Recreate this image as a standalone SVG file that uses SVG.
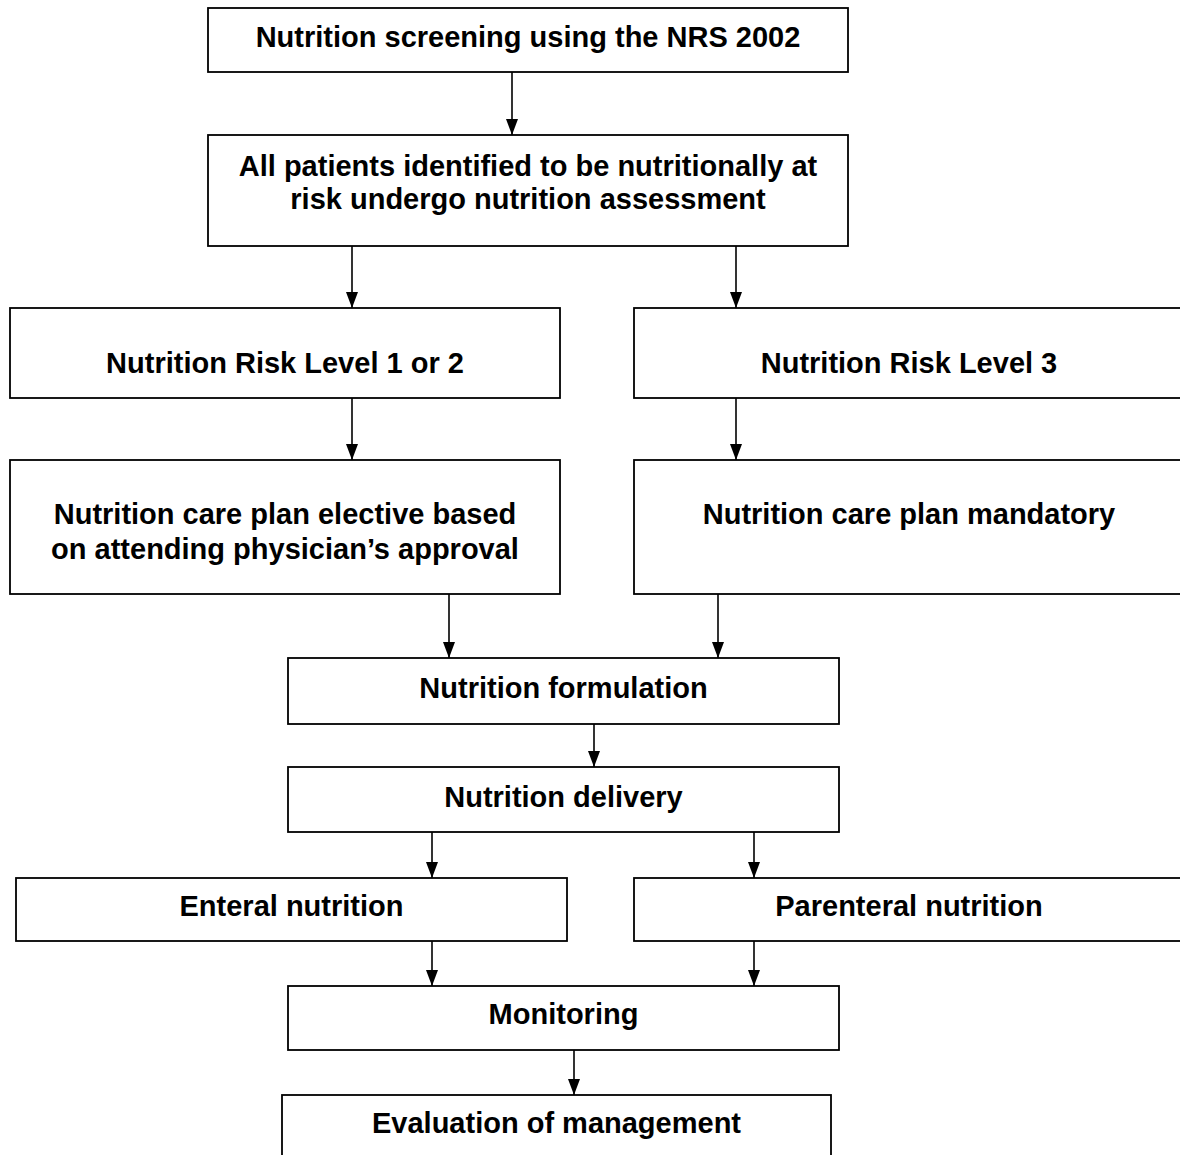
<svg xmlns="http://www.w3.org/2000/svg" width="1180" height="1155" viewBox="0 0 1180 1155">
<style>
.box{fill:#fff;stroke:#000;stroke-width:1.8}
.t{font-family:"Liberation Sans",Arial,sans-serif;font-weight:bold;font-size:29px;fill:#000;text-anchor:middle}
.c{stroke:#000;stroke-width:1.6;fill:none;marker-end:url(#ah)}
</style>
<defs>
<marker id="ah" markerWidth="16" markerHeight="12" refX="16" refY="6" orient="auto" markerUnits="userSpaceOnUse" viewBox="0 0 16 12">
<path d="M0,0 L16,6 L0,12 Z" fill="#000"/>
</marker>
</defs>
<rect width="1180" height="1155" fill="#fff"/>
<g id="n1"><rect class="box" x="208" y="8" width="640" height="64"/><text class="t" x="528" y="47">Nutrition screening using the NRS 2002</text></g>
<g id="n2"><rect class="box" x="208" y="135" width="640" height="111"/><text class="t" x="528" y="176">All patients identified to be nutritionally at</text><text class="t" x="528" y="209">risk undergo nutrition assessment</text></g>
<g id="n3"><rect class="box" x="10" y="308" width="550" height="90"/><text class="t" x="285" y="373">Nutrition Risk Level 1 or 2</text></g>
<g id="n4"><rect class="box" x="634" y="308" width="560" height="90"/><text class="t" x="909" y="373">Nutrition Risk Level 3</text></g>
<g id="n5"><rect class="box" x="10" y="460" width="550" height="134"/><text class="t" x="285" y="524">Nutrition care plan elective based</text><text class="t" x="285" y="559">on attending physician’s approval</text></g>
<g id="n6"><rect class="box" x="634" y="460" width="560" height="134"/><text class="t" x="909" y="524">Nutrition care plan mandatory</text></g>
<g id="n7"><rect class="box" x="288" y="658" width="551" height="66"/><text class="t" x="563.5" y="698">Nutrition formulation</text></g>
<g id="n8"><rect class="box" x="288" y="767" width="551" height="65"/><text class="t" x="563.5" y="807">Nutrition delivery</text></g>
<g id="n9"><rect class="box" x="16" y="878" width="551" height="63"/><text class="t" x="291.5" y="916">Enteral nutrition</text></g>
<g id="n10"><rect class="box" x="634" y="878" width="560" height="63"/><text class="t" x="909" y="916">Parenteral nutrition</text></g>
<g id="n11"><rect class="box" x="288" y="986" width="551" height="64"/><text class="t" x="563.5" y="1024">Monitoring</text></g>
<g id="n12"><rect class="box" x="282" y="1095" width="549" height="80"/><text class="t" x="556.5" y="1133">Evaluation of management</text></g>
<g id="connectors">
<line class="c" x1="512" y1="72" x2="512" y2="135"/>
<line class="c" x1="352" y1="246" x2="352" y2="308"/>
<line class="c" x1="736" y1="246" x2="736" y2="308"/>
<line class="c" x1="352" y1="398" x2="352" y2="460"/>
<line class="c" x1="736" y1="398" x2="736" y2="460"/>
<line class="c" x1="449" y1="594" x2="449" y2="658"/>
<line class="c" x1="718" y1="594" x2="718" y2="658"/>
<line class="c" x1="594" y1="724" x2="594" y2="767"/>
<line class="c" x1="432" y1="832" x2="432" y2="878"/>
<line class="c" x1="754" y1="832" x2="754" y2="878"/>
<line class="c" x1="432" y1="941" x2="432" y2="986"/>
<line class="c" x1="754" y1="941" x2="754" y2="986"/>
<line class="c" x1="574" y1="1050" x2="574" y2="1095"/>
</g>
</svg>
